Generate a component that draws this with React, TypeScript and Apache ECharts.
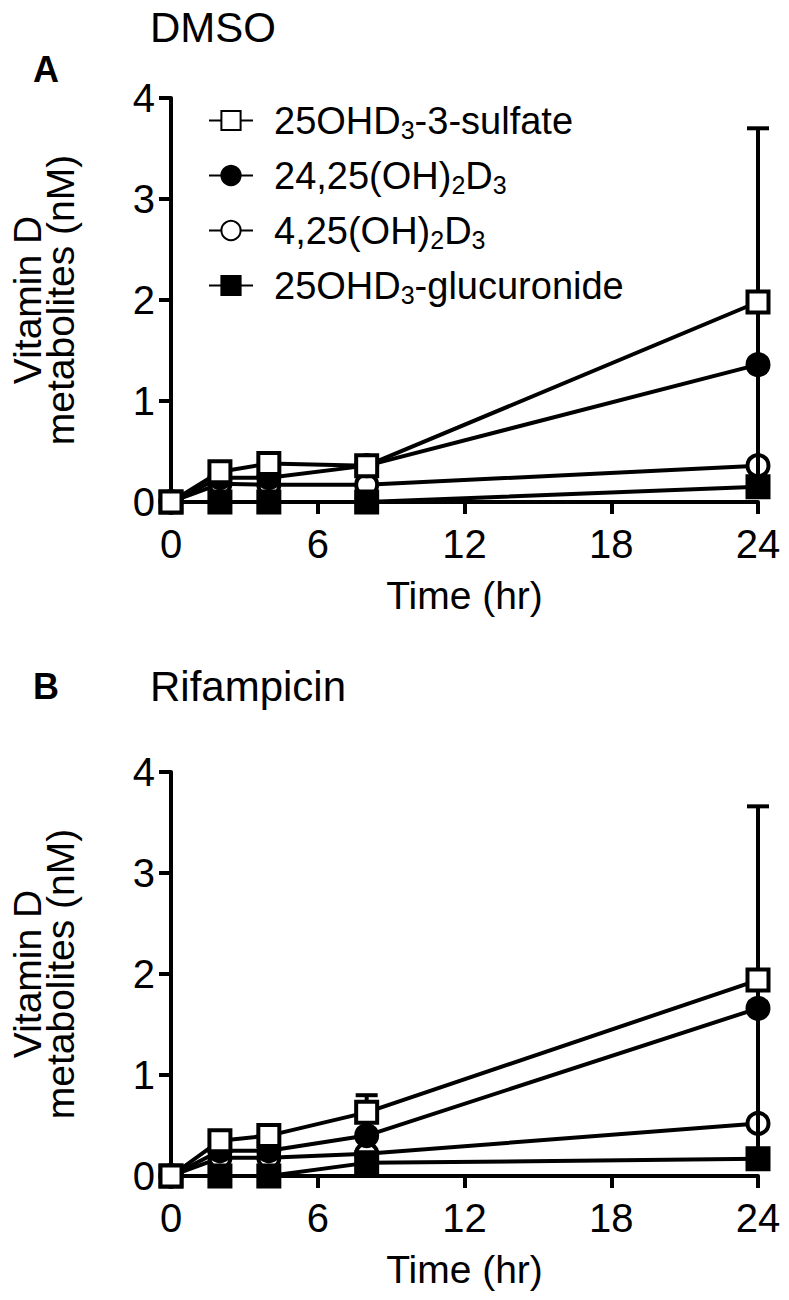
import React, { useEffect, useRef } from "react";
import * as echarts from "echarts";

const timesHr = [0, 2, 4, 8, 24];
const xTickInterval = 6;
const yTickInterval = 1;
const seriesNames = ["25OHD3-3-sulfate", "24,25(OH)2D3", "4,25(OH)2D3", "25OHD3-glucuronide"];
const legendRich = [
  "{g|}{n|25OHD}{s|3}{n|-3-sulfate}",
  "{g|}{n|24,25(OH)}{s|2}{n|D}{s|3}",
  "{g|}{n|4,25(OH)}{s|2}{n|D}{s|3}",
  "{g|}{n|25OHD}{s|3}{n|-glucuronide}",
];
const panelTitles = ["DMSO", "Rifampicin"];
const panelLetters = ["A", "B"];

// DMSO panel
const dmsoSulfate = [0, 0.3, 0.38, 0.36, 1.98];
const dmso2425 = [0, 0.24, 0.24, 0.36, 1.36];
const dmso425 = [0, 0.18, 0.17, 0.17, 0.36];
const dmsoGluc = [0, 0, 0, 0, 0.15];
const dmsoErr = [[24, 0.26, 3.7]];

// Rifampicin panel
const rifSulfate = [0, 0.35, 0.4, 0.63, 1.94];
const rif2425 = [0, 0.25, 0.25, 0.4, 1.66];
const rif425 = [0, 0.18, 0.18, 0.22, 0.52];
const rifGluc = [0, 0, 0, 0.13, 0.17];
const rifErr = [[8, 0.46, 0.8], [24, 0.22, 3.66]];

const FONT = "'Liberation Sans', Arial, Helvetica, sans-serif";

export default function App() {
  const ref = useRef<HTMLDivElement>(null);
  useEffect(() => {
    if (!ref.current) return;
    const chart = echarts.init(ref.current, undefined, { renderer: "svg" });

    const grids = [
      { left: 152, top: 98, width: 606, height: 404 },
      { left: 152, top: 772, width: 606, height: 404 },
    ];
    const mkX = (i: number) => ({
      type: "value",
      gridIndex: i,
      min: 0,
      max: 24,
      interval: xTickInterval,
      name: "Time (hr)",
      nameLocation: "middle",
      nameGap: 74,
      nameTextStyle: { fontFamily: FONT, fontSize: 39, color: "#000" },
      axisLine: { show: true, lineStyle: { color: "#000", width: 4 } },
      axisTick: { show: true, length: 12, lineStyle: { color: "#000", width: 4 } },
      axisLabel: { fontFamily: FONT, fontSize: 40, color: "#000", margin: 22 },
      splitLine: { show: false },
    });
    const mkY = (i: number) => ({
      type: "value",
      gridIndex: i,
      min: 0,
      max: 4,
      interval: yTickInterval,
      name: "Vitamin D\nmetabolites (nM)",
      nameLocation: "middle",
      nameRotate: 90,
      nameGap: 94,
      nameTextStyle: { fontFamily: FONT, fontSize: 39, lineHeight: 33, color: "#000" },
      axisLine: { show: true, lineStyle: { color: "#000", width: 4 } },
      axisTick: { show: true, length: 12, lineStyle: { color: "#000", width: 4 } },
      axisLabel: { fontFamily: FONT, fontSize: 40, color: "#000", margin: 16 },
      splitLine: { show: false },
    });

    const styles = [
      { symbol: "rect", fill: "#fff", z: 6 },
      { symbol: "circle", fill: "#000", z: 5 },
      { symbol: "circle", fill: "#fff", z: 2 },
      { symbol: "rect", fill: "#000", z: 4 },
    ];
    const panels = [
      [dmsoSulfate, dmso2425, dmso425, dmsoGluc],
      [rifSulfate, rif2425, rif425, rifGluc],
    ];
    const errs = [dmsoErr, rifErr];

    const series: any[] = [];
    panels.forEach((vals, p) => {
      vals.forEach((arr, k) => {
        series.push({
          type: "line",
          name: seriesNames[k],
          xAxisIndex: p,
          yAxisIndex: p,
          data: timesHr.map((t, j) => [t, arr[j]]),
          symbol: styles[k].symbol,
          symbolSize: 21,
          showAllSymbol: true,
          z: styles[k].z,
          lineStyle: { color: "#000", width: 4 },
          itemStyle: { color: styles[k].fill, borderColor: "#000", borderWidth: 4 },
        });
      });
      series.push({
        type: "custom",
        name: "err" + p,
        xAxisIndex: p,
        yAxisIndex: p,
        z: 3,
        data: errs[p],
        encode: { x: 0, y: [1, 2] },
        renderItem: (params: any, api: any) => {
          const x = api.value(0);
          const lo = api.coord([x, api.value(1)]);
          const hi = api.coord([x, api.value(2)]);
          const cap = 11;
          const st = { stroke: "#000", lineWidth: 4 };
          return {
            type: "group",
            children: [
              { type: "line", shape: { x1: lo[0], y1: lo[1], x2: hi[0], y2: hi[1] }, style: st },
              { type: "line", shape: { x1: hi[0] - cap, y1: hi[1], x2: hi[0] + cap, y2: hi[1] }, style: st },
            ],
          };
        },
      });
    });

    const graphics: any[] = [];
    const titleY = [27, 686];
    const letterY = [69, 686];
    [0, 1].forEach((p) => {
      graphics.push({
        type: "text",
        style: { x: 150, y: titleY[p], text: panelTitles[p], font: `42px ${FONT}`, fill: "#000", textAlign: "left", textVerticalAlign: "middle" },
      });
      graphics.push({
        type: "text",
        style: { x: 46, y: letterY[p], text: panelLetters[p], font: `bold 36px ${FONT}`, fill: "#000", textAlign: "center", textVerticalAlign: "middle" },
      });
    });

    chart.setOption({
      animation: false,
      backgroundColor: "#fff",
      grid: grids,
      xAxis: [mkX(0), mkX(1)],
      yAxis: [mkY(0), mkY(1)],
      legend: {
        data: seriesNames,
        orient: "vertical",
        left: 203,
        top: 94,
        itemWidth: 44,
        itemHeight: 24,
        itemGap: 12,
        selectedMode: false,
        formatter: (name: string) => legendRich[seriesNames.indexOf(name)],
        textStyle: {
          fontFamily: FONT,
          color: "#000",
          rich: {
            g: { width: 16 },
            n: { fontFamily: FONT, fontSize: 38, lineHeight: 36, color: "#000" },
            s: { fontFamily: FONT, fontSize: 25, lineHeight: 25, padding: [18, 0, 0, 0], color: "#000" },
          },
        },
      },
      graphic: graphics,
      series,
    });
    return () => chart.dispose();
  }, []);
  return <div ref={ref} style={{ position: "absolute", left: 0, top: 0, width: 789, height: 1300 }} />;
}
